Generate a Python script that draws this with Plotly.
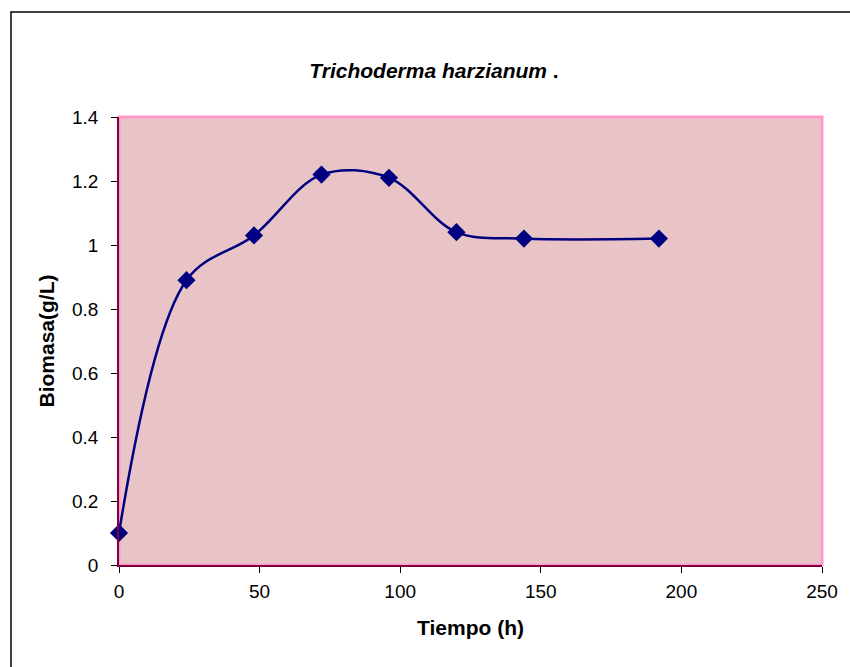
import plotly.graph_objects as go

tiempo = [0, 24, 48, 72, 96, 120, 144, 192]
biomasa = [0.1, 0.89, 1.03, 1.22, 1.21, 1.04, 1.02, 1.02]
y_ticks = [0, 0.2, 0.4, 0.6, 0.8, 1, 1.2, 1.4]
y_tick_labels = ["0", "0.2", "0.4", "0.6", "0.8", "1", "1.2", "1.4"]
x_ticks = [0, 50, 100, 150, 200, 250]

FONT = "Liberation Sans, Arial, sans-serif"
L, R, T, B = 119, 28, 117, 102
W, H = 850, 667
pw, ph = W - L - R, H - T - B

fig = go.Figure()
fig.add_trace(go.Scatter(
    x=tiempo, y=biomasa, mode="lines+markers",
    line=dict(color="#000080", width=2.5, shape="spline", smoothing=1.0),
    marker=dict(symbol="diamond", size=14, color="#000080"),
    cliponaxis=False,
    showlegend=False,
))

def px_to_paper_x(px):
    return (px - L) / pw

def px_to_paper_y(py):
    return 1 - (py - T) / ph

shapes = [
    dict(type="rect", xref="paper", yref="paper",
         x0=px_to_paper_x(11), x1=px_to_paper_x(880),
         y0=px_to_paper_y(700), y1=px_to_paper_y(12),
         line=dict(color="black", width=1.5), fillcolor="rgba(0,0,0,0)", layer="below"),
    dict(type="rect", xref="paper", yref="paper", x0=0, x1=1, y0=0, y1=1,
         line=dict(color="#ff99cc", width=3), fillcolor="rgba(0,0,0,0)", layer="below"),
]

fig.update_layout(
    width=W, height=H,
    margin=dict(l=L, r=R, t=T, b=B),
    paper_bgcolor="white",
    plot_bgcolor="#e8c4c6",
    shapes=shapes,
    font=dict(family=FONT, color="black", size=19),
    title=dict(
        text="<b><i>Trichoderma harzianum</i> .</b>",
        x=px_to_paper_x(434), xref="paper", xanchor="center",
        y=1 - 71 / H, yref="container", yanchor="middle",
        font=dict(family=FONT, size=21, color="black"),
    ),
    xaxis=dict(
        range=[0, 250], tickvals=x_ticks, ticks="outside", ticklen=6,
        tickcolor="black", showgrid=False, zeroline=False,
        showline=True, linecolor="#80003f", linewidth=1.5,
        tickfont=dict(family=FONT, size=19), ticklabelstandoff=2,
        title=dict(text="<b>Tiempo (h)</b>", font=dict(family=FONT, size=21), standoff=20),
    ),
    yaxis=dict(
        range=[0, 1.4], tickvals=y_ticks, ticktext=y_tick_labels, ticks="outside",
        ticklen=6, tickcolor="black", showgrid=False, zeroline=False,
        showline=True, linecolor="#80003f", linewidth=1.5,
        tickfont=dict(family=FONT, size=19), ticklabelstandoff=9,
        title=dict(text="<b>Biomasa(g/L)</b>", font=dict(family=FONT, size=21), standoff=12),
    ),
)

fig.write_html("out.html")
